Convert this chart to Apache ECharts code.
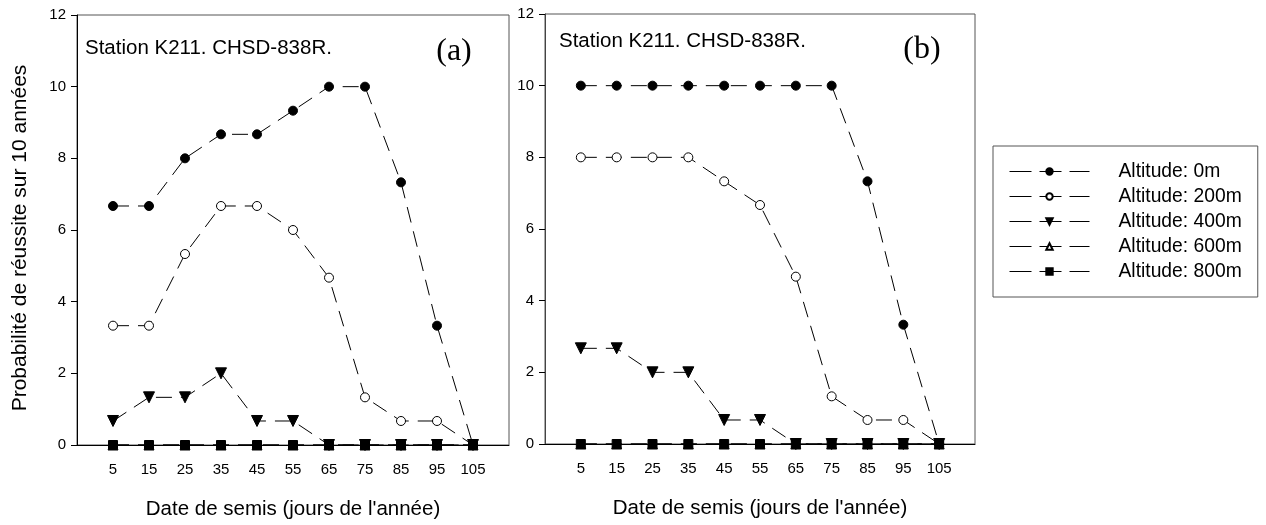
<!DOCTYPE html>
<html><head><meta charset="utf-8">
<script src="https://cdn.jsdelivr.net/npm/echarts@6/dist/echarts.min.js"></script>
<style>html,body{margin:0;padding:0;background:#fff}#c{width:1266px;height:525px}</style>
</head><body><div id="c"></div>
<script>
const days = [5, 15, 25, 35, 45, 55, 65, 75, 85, 95, 105];
const seriesNames = ['Altitude: 0m', 'Altitude: 200m', 'Altitude: 400m', 'Altitude: 600m', 'Altitude: 800m'];
// Panel (a)
const a_0m   = [6.67, 6.67, 8, 8.67, 8.67, 9.33, 10, 10, 7.33, 3.33, 0];
const a_200m = [3.33, 3.33, 5.33, 6.67, 6.67, 6, 4.67, 1.33, 0.67, 0.67, 0];
const a_400m = [0.67, 1.33, 1.33, 2, 0.67, 0.67, 0, 0, 0, 0, 0];
const a_600m = [0, 0, 0, 0, 0, 0, 0, 0, 0, 0, 0];
const a_800m = [0, 0, 0, 0, 0, 0, 0, 0, 0, 0, 0];
// Panel (b)
const b_0m   = [10, 10, 10, 10, 10, 10, 10, 10, 7.33, 3.33, 0];
const b_200m = [8, 8, 8, 8, 7.33, 6.67, 4.67, 1.33, 0.67, 0.67, 0];
const b_400m = [2.67, 2.67, 2, 2, 0.67, 0.67, 0, 0, 0, 0, 0];
const b_600m = [0, 0, 0, 0, 0, 0, 0, 0, 0, 0, 0];
const b_800m = [0, 0, 0, 0, 0, 0, 0, 0, 0, 0, 0];
const yTicks = [0, 2, 4, 6, 8, 10, 12];
const panelLabels = ['(a)', '(b)'];
const stationText = 'Station K211. CHSD-838R.';
const xTitle = "Date de semis (jours de l'année)";
const yTitle = 'Probabilité de réussite sur 10 années';

const FONT = '"Liberation Sans", Arial, sans-serif';
const styles = [
  {symbol: 'circle', size: 9, fill: '#000', rot: 0},
  {symbol: 'circle', size: 9, fill: '#fff', rot: 0},
  {symbol: 'triangle', size: 11, fill: '#000', rot: 180},
  {symbol: 'triangle', size: 10, fill: '#fff', rot: 0},
  {symbol: 'rect', size: 9, fill: '#000', rot: 0}
];
const panels = [[a_0m, a_200m, a_400m, a_600m, a_800m], [b_0m, b_200m, b_400m, b_600m, b_800m]];

const grids = [
  {left: 77, top: 15, width: 432, height: 431},
  {left: 545, top: 14, width: 430, height: 430}
].map(g => Object.assign(g, {show: true, borderColor: '#555', borderWidth: 1, containLabel: false}));

const xAxes = [0, 1].map(i => ({
  type: 'value', gridIndex: i, min: -5, max: 115, interval: 10,
  name: xTitle, nameLocation: 'middle', nameGap: 54,
  nameTextStyle: {fontFamily: FONT, fontSize: 20.5, color: '#000'},
  axisLine: {show: true, onZero: false, lineStyle: {color: '#000', width: 1}},
  axisTick: {show: false},
  splitLine: {show: false},
  axisLabel: {fontFamily: FONT, fontSize: 15, color: '#000', margin: 17,
    formatter: v => (days.indexOf(v) >= 0 ? String(v) : '')}
}));
const yAxes = [0, 1].map(i => ({
  type: 'value', gridIndex: i, min: yTicks[0], max: yTicks[yTicks.length - 1], interval: 2,
  axisLine: {show: true, onZero: false, lineStyle: {color: i === 0 ? '#000' : '#444', width: 1}},
  axisTick: {show: true, length: 6, lineStyle: {color: '#000'}},
  splitLine: {show: false},
  axisLabel: {fontFamily: FONT, fontSize: 15, color: '#000', margin: 11}
}));

const series = [];
panels.forEach((vals, p) => {
  vals.forEach((arr, k) => {
    const st = styles[k];
    series.push({
      name: seriesNames[k], type: 'line', xAxisIndex: p, yAxisIndex: p,
      data: arr.map((v, j) => [days[j], v]),
      symbol: st.symbol, symbolSize: st.size, symbolRotate: st.rot, showSymbol: true,
      z: 2 + k,
      lineStyle: {color: '#000', width: 1, type: [16, 9]},
      itemStyle: {color: st.fill, borderColor: '#000', borderWidth: 1},
      emphasis: {disabled: true}, animation: false
    });
  });
});

const graphics = [];
[[85, 50, 454, 52], [559, 43, 922, 50]].forEach((pos, i) => {
  graphics.push({type: 'text', left: pos[0], top: pos[1] - 12,
    style: {text: stationText, font: '20.5px ' + FONT, fill: '#000'}});
  graphics.push({type: 'text', x: pos[2], y: pos[3],
    style: {text: panelLabels[i], font: '32px "Liberation Serif", "Times New Roman", serif', fill: '#000',
      align: 'center', verticalAlign: 'middle'}});
});
graphics.push({type: 'text', x: 20, y: 238, rotation: Math.PI / 2,
  style: {text: yTitle, font: '21px ' + FONT, fill: '#000', align: 'center', verticalAlign: 'middle'}});

const chart = echarts.init(document.getElementById('c'), null, {renderer: 'canvas'});
chart.setOption({
  animation: false,
  backgroundColor: '#fff',
  grid: grids, xAxis: xAxes, yAxis: yAxes, series: series,
  graphic: graphics,
  legend: {
    data: seriesNames, orient: 'vertical', left: 993, top: 146,
    backgroundColor: '#fff',
    borderColor: '#555', borderWidth: 1, padding: [16, 16, 16, 16],
    itemWidth: 80, itemHeight: 8, itemGap: 6,
    lineStyle: {type: [22, 8], width: 1, color: '#000'},
    textStyle: {fontFamily: FONT, fontSize: 19.3, lineHeight: 19, color: '#000', padding: [0, 0, 0, 24]},
    selectedMode: false
  }
});
</script></body></html>
